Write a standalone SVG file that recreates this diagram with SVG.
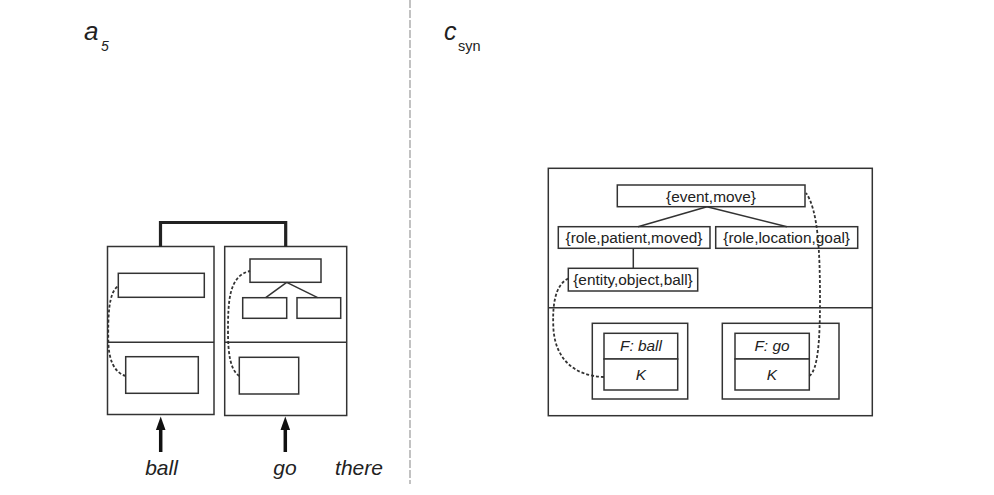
<svg xmlns="http://www.w3.org/2000/svg" width="994" height="495" viewBox="0 0 994 495">
<style>
.bx{fill:#fff;stroke:#333;stroke-width:1.5}
.ln{fill:none;stroke:#333;stroke-width:1.5}
.dash{fill:none;stroke:#333;stroke-width:1.8;stroke-dasharray:3,2}
.t{font-family:"Liberation Sans",Arial,sans-serif;fill:#222}
.lab{font-size:15.4px;text-anchor:middle}
.it{font-style:italic}
</style>
<rect width="994" height="495" fill="#fff"/>
<line x1="410" y1="0" x2="410" y2="484" stroke="#999" stroke-width="1.2" stroke-dasharray="8,2"/>
<g id="title-a5">
<text class="t it" x="84" y="40" font-size="26">a</text>
<text class="t it" x="101" y="51" font-size="14">5</text>
</g>
<g id="title-csyn">
<text class="t it" x="444" y="40" font-size="25">c</text>
<text class="t" x="458" y="51" font-size="14.5">syn</text>
</g>
<g id="left-ball">
<rect class="bx" x="107.5" y="246.5" width="106.5" height="168"/>
<line class="ln" x1="107.5" y1="342.3" x2="214" y2="342.3"/>
<rect class="bx" x="118.3" y="273.3" width="86" height="24"/>
<rect class="bx" x="125.7" y="356.7" width="72.6" height="36.6"/>
</g>
<g id="left-go">
<rect class="bx" x="224.7" y="246.5" width="122" height="169"/>
<line class="ln" x1="224.7" y1="342.3" x2="346.7" y2="342.3"/>
<rect class="bx" x="250" y="259" width="71" height="23.3"/>
<rect class="bx" x="242.7" y="297.7" width="44" height="20.6"/>
<rect class="bx" x="297" y="297.7" width="43.7" height="20.6"/>
<rect class="bx" x="239.3" y="357.3" width="59.4" height="36.7"/>
</g>
<g id="words">
<text class="t it" x="161.5" y="475" font-size="21" text-anchor="middle">ball</text>
<text class="t it" x="285" y="475" font-size="21" text-anchor="middle">go</text>
<text class="t it" x="359" y="475" font-size="21" text-anchor="middle">there</text>
</g>
<g id="right-frame">
<rect class="bx" x="548.3" y="168.3" width="324" height="247.4"/>
<line class="ln" x1="548.3" y1="307.7" x2="872.3" y2="307.7"/>
</g>
<g id="n-event">
<rect class="bx" x="617.3" y="185" width="187.7" height="21.7"/>
<text class="t lab" x="711" y="201.5">{event,move}</text>
</g>
<g id="n-patient">
<rect class="bx" x="558.3" y="226.7" width="151.7" height="21.6"/>
<text class="t lab" x="634" y="243">{role,patient,moved}</text>
</g>
<g id="n-location">
<rect class="bx" x="715.7" y="226.7" width="142" height="21.6"/>
<text class="t lab" x="786.7" y="243">{role,location,goal}</text>
</g>
<g id="n-entity">
<rect class="bx" x="568.3" y="268.3" width="129.4" height="22.7"/>
<text class="t lab" x="633" y="285">{entity,object,ball}</text>
</g>
<g id="n-ball">
<rect class="bx" x="592.3" y="323.3" width="95.4" height="75.7"/>
<rect class="bx" x="604" y="333.3" width="73.7" height="25.7"/>
<rect class="bx" x="604" y="359" width="73.7" height="31"/>
<text class="t lab it" x="641" y="350.5">F: ball</text>
<text class="t lab it" x="641" y="380">K</text>
</g>
<g id="n-go">
<rect class="bx" x="722.3" y="323.3" width="116.7" height="75.7"/>
<rect class="bx" x="735" y="333.3" width="74.3" height="25.7"/>
<rect class="bx" x="735" y="359" width="74.3" height="31"/>
<text class="t lab it" x="772" y="350.5">F: go</text>
<text class="t lab it" x="772" y="380">K</text>
</g>
<g id="connectors">
<path d="M160.5,246.5 V222.5 H285.7 V246.5" fill="none" stroke="#222" stroke-width="3.2"/>
<line x1="160.7" y1="452" x2="160.7" y2="428" stroke="#111" stroke-width="3.5"/>
<path d="M160.7,416.5 L165.5,430 L155.9,430 Z" fill="#111"/>
<line x1="285.3" y1="452" x2="285.3" y2="428" stroke="#111" stroke-width="3.5"/>
<path d="M285.3,416.5 L290.1,430 L280.5,430 Z" fill="#111"/>
<line class="ln" x1="286.7" y1="282.3" x2="265.7" y2="297.7"/>
<line class="ln" x1="286.7" y1="282.3" x2="317.7" y2="297.7"/>
<path class="dash" d="M125.7,376 C113,372 108.5,358 108.3,340 C108,316 108.5,292 118.3,286"/>
<path class="dash" d="M239.3,376 C230,370 228,352 228,332 C228,300 229,276 250,271"/>
<line class="ln" x1="707" y1="206.7" x2="638" y2="226.7"/>
<line class="ln" x1="707" y1="206.7" x2="787" y2="226.7"/>
<line class="ln" x1="633.3" y1="248.3" x2="633.3" y2="268.3"/>
<path class="dash" d="M604,377 C575,376 556,360 553.5,330 C552,305 555,285 568.3,278.5"/>
<path class="dash" d="M809.3,376 C818,370 820,340 820,300 C820,250 818,210 806,193"/>
</g>
</svg>
